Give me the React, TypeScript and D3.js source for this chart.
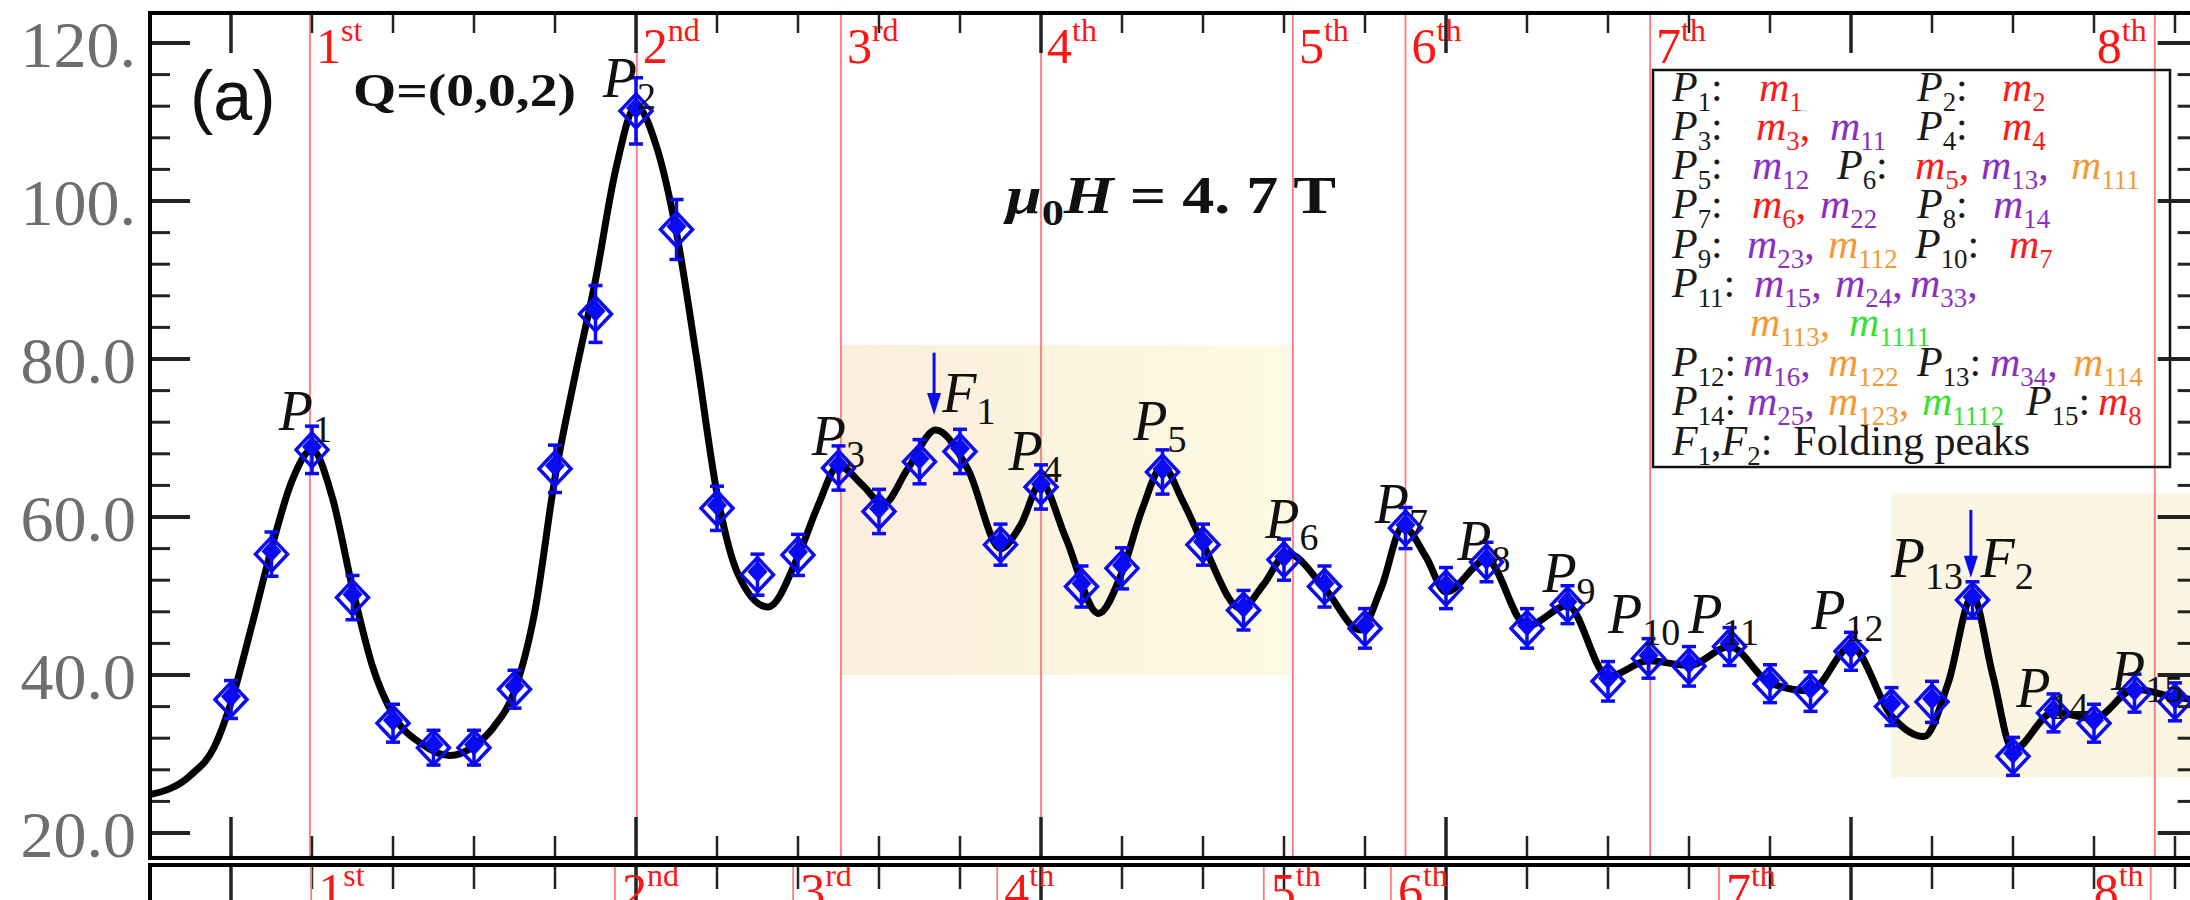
import React from 'react';
import * as d3 from 'd3';

// ---------- data ----------
const energy = [0,0.5,1,1.5,2,2.5,3,3.5,4,4.5,5,5.5,6,6.5,7,7.5,8,8.5,9,9.5,10,10.5,11,11.5,12,12.5,13,13.5,14,14.5,15,15.5,16,16.5,17,17.5,18,18.5,19,19.5,20,20.5,21,21.5,22,22.5,23,23.5,24];
const intensity = [36.9,55.3,68.5,49.8,33.9,30.8,30.8,38.2,66.1,85.7,111.4,96.4,61.1,52.7,55.2,66.2,60.7,67.0,68.3,56.5,63.8,51.2,53.5,65.7,56.5,48.2,54.6,51.2,45.9,58.6,51.0,54.3,45.9,48.9,39.2,42.1,41.1,43.6,38.9,37.9,43.0,36.0,36.6,49.5,29.7,35.2,33.9,37.7,36.6];
const errors = [2.4,2.8,3.0,2.8,2.4,2.2,2.2,2.4,3.0,3.6,4.2,3.8,2.8,2.6,2.6,2.8,2.8,2.8,2.8,2.6,2.8,2.6,2.6,2.8,2.6,2.5,2.6,2.6,2.5,2.6,2.6,2.5,2.5,2.4,2.5,2.5,2.5,2.4,2.4,2.5,2.4,2.4,2.6,2.3,2.4,2.4,2.4,2.4,2.4];

const fitE = [-1.02,-0.5,-0.2,0,0.25,0.5,0.75,1.0,1.25,1.5,1.75,2.0,2.35,2.7,3.0,3.25,3.5,3.75,4.0,4.25,4.5,4.75,5.0,5.25,5.5,5.75,6.0,6.25,6.63,7.0,7.25,7.5,7.8,8.05,8.35,8.7,9.1,9.5,9.75,10.0,10.3,10.71,11.0,11.25,11.5,11.75,12.0,12.47,12.75,13.04,13.5,13.94,14.2,14.47,14.75,15.0,15.5,16.0,16.5,17.0,17.5,18.0,18.5,19.0,19.5,20.0,20.5,20.9,21.2,21.5,21.75,22.0,22.5,23.0,23.5,24.0,24.3];
const fitI = [24.8,27.3,31.0,36.5,46.0,56.0,64.5,68.5,62.5,51.0,41.0,35.0,31.3,29.8,31.0,33.5,38.0,48.0,65.0,78.0,90.0,104.0,112.0,107.0,96.0,80.0,63.0,53.0,48.6,55.0,61.5,66.5,64.0,61.6,66.0,71.0,66.0,56.0,59.0,64.3,57.5,47.8,53.0,61.0,66.4,62.0,56.6,48.4,51.5,55.4,51.0,45.7,51.0,58.8,55.0,50.5,54.6,46.2,48.8,39.8,41.8,41.2,43.6,39.0,38.0,43.6,34.8,32.2,39.0,50.0,40.0,30.5,35.3,34.5,38.2,37.2,36.8];

const yMajor = [20, 40, 60, 80, 100, 120];
const yMajorLabels = ['20.0', '40.0', '60.0', '80.0', '100.', '120.'];

const orderLinesUpper = [0.975, 5.01, 7.53, 10.0, 13.11, 14.5, 17.52, 23.75];
const orderLinesLower = [0.99, 4.74, 6.94, 9.46, 12.75, 14.32, 18.37, 23.7];
const orderNums = ['1', '2', '3', '4', '5', '6', '7', '8'];
const orderSups = ['st', 'nd', 'rd', 'th', 'th', 'th', 'th', 'th'];

const peakNames = ['1','2','3','4','5','6','7','8','9','10','11','12','13','14','15'];
const peakLabelE = [0.59, 4.59, 7.17, 9.6, 11.14, 12.77, 14.12, 15.14, 16.19, 17.0, 17.99, 19.51, 20.49, 22.04, 23.21];
const peakLabelI = [71.0, 113.2, 67.8, 66.0, 69.7, 57.3, 59.2, 54.6, 50.5, 45.3, 45.3, 45.8, 52.4, 36.0, 38.1];

const foldNames = ['1', '2'];
const foldArrowE = [8.68, 21.48];
const foldArrowTop = [80.8, 60.9];
const foldArrowBot = [72.9, 52.3];
const foldLabelE = [8.78, 21.6];
const foldLabelI = [73.3, 52.4];

const shade1 = { e0: 7.53, e1: 13.08, i0: 40, i1: 81.8 };
const shade2 = { e0: 20.5, e1: 24.4, i0: 27, i1: 63 };

// legend content
const RED = '#ff1a1a', PUR = '#8a2fc0', ORA = '#f39a36', GRN = '#38e038', BLK = '#1a1a1a';
type Run = { t: string; s?: string; c: string; it?: boolean };
const P = (n: string): Run[] => [{ t: 'P', s: n, c: BLK, it: true }, { t: ':', c: BLK }];
const M = (n: string, c: string, comma = false): Run[] =>
  comma ? [{ t: 'm', s: n, c, it: true }, { t: ',', c }] : [{ t: 'm', s: n, c, it: true }];

const legendRows: { x: number; runs: Run[] }[][] = [
  [{ x: 1672, runs: P('1') }, { x: 1759, runs: M('1', RED) }, { x: 1917, runs: P('2') }, { x: 2002, runs: M('2', RED) }],
  [{ x: 1672, runs: P('3') }, { x: 1756, runs: M('3', RED, true) }, { x: 1830, runs: M('11', PUR) }, { x: 1917, runs: P('4') }, { x: 2002, runs: M('4', RED) }],
  [{ x: 1672, runs: P('5') }, { x: 1752, runs: M('12', PUR) }, { x: 1837, runs: P('6') }, { x: 1915, runs: M('5', RED, true) }, { x: 1981, runs: M('13', PUR, true) }, { x: 2071, runs: M('111', ORA) }],
  [{ x: 1672, runs: P('7') }, { x: 1752, runs: M('6', RED, true) }, { x: 1820, runs: M('22', PUR) }, { x: 1917, runs: P('8') }, { x: 1993, runs: M('14', PUR) }],
  [{ x: 1672, runs: P('9') }, { x: 1747, runs: M('23', PUR, true) }, { x: 1828, runs: M('112', ORA) }, { x: 1915, runs: P('10') }, { x: 2009, runs: M('7', RED) }],
  [{ x: 1672, runs: P('11') }, { x: 1754, runs: M('15', PUR, true) }, { x: 1835, runs: M('24', PUR, true) }, { x: 1910, runs: M('33', PUR, true) }],
  [{ x: 1750, runs: M('113', ORA, true) }, { x: 1849, runs: M('1111', GRN) }],
  [{ x: 1672, runs: P('12') }, { x: 1743, runs: M('16', PUR, true) }, { x: 1828, runs: M('122', ORA) }, { x: 1917, runs: P('13') }, { x: 1990, runs: M('34', PUR, true) }, { x: 2073, runs: M('114', ORA) }],
  [{ x: 1672, runs: P('14') }, { x: 1747, runs: M('25', PUR, true) }, { x: 1828, runs: M('123', ORA, true) }, { x: 1922, runs: M('1112', GRN) }, { x: 2026, runs: P('15') }, { x: 2098, runs: M('8', RED) }],
  [{ x: 1672, runs: [{ t: 'F', s: '1', c: BLK, it: true }, { t: ',', c: BLK }, { t: 'F', s: '2', c: BLK, it: true }, { t: ':  Folding peaks', c: BLK }] }],
];
const legendBaselines = [101, 140, 179, 218, 258, 297, 336, 376, 415, 455];

// ---------- layout ----------
const W = 2190, H = 900;
const X = d3.scaleLinear().domain([0, 20]).range([231, 1851]);
const Y = d3.scaleLinear().domain([20, 120]).range([833, 43]);
const L = X(-1.0), R = X(24.28), T = Y(123.8), B = Y(16.84);
const LOWER_TOP = 865;
const SERIF = '"Liberation Serif", "Times New Roman", serif';
const BLUE = '#0a0af5';
const LEG_FS = 42;

function renderRuns(runs: Run[], size: number, keyp: string) {
  const out: any[] = [];
  let pending = 0;
  runs.forEach((r, i) => {
    out.push(
      <tspan key={keyp + i + 'a'} dy={pending ? pending : undefined} fill={r.c} fontStyle={r.it ? 'italic' : 'normal'}>{r.t}</tspan>
    );
    pending = 0;
    if (r.s) {
      const d = size * 0.24;
      out.push(
        <tspan key={keyp + i + 'b'} dy={d} fontSize={size * 0.64} fill={r.c} fontStyle="normal">{r.s}</tspan>
      );
      pending = -d;
    }
  });
  return out;
}

export default function App() {
  const line = d3.line<number>()
    .x((_, i) => X(fitE[i]))
    .y((_, i) => Y(fitI[i]))
    .curve(d3.curveMonotoneX);
  const fitPath = line(fitI) || '';

  const xTicks = d3.range(0, 25, 1);
  const yTicks = d3.range(20, 124, 4);

  const diamond = (w: number, h: number) => `M0,${-h}L${w},0L0,${h}L${-w},0Z`;

  return (
    <svg width={W} height={H} style={{ position: 'absolute', left: 0, top: 0, background: '#fff' }}>
      <defs>
        <linearGradient id="sh1" x1="0" x2="1" y1="0" y2="0">
          <stop offset="0" stopColor="#fbeedc" />
          <stop offset="1" stopColor="#fdfae2" />
        </linearGradient>
        <clipPath id="plotClip">
          <rect x={L} y={T} width={R - L} height={B - T} />
        </clipPath>
      </defs>

      {/* shaded regions */}
      <rect x={X(shade1.e0)} y={Y(shade1.i1)} width={X(shade1.e1) - X(shade1.e0)} height={Y(shade1.i0) - Y(shade1.i1)} fill="url(#sh1)" />
      <rect x={X(shade2.e0)} y={Y(shade2.i1)} width={X(shade2.e1) - X(shade2.e0)} height={Y(shade2.i0) - Y(shade2.i1)} fill="#fbf5e1" />

      {/* order lines upper */}
      {orderLinesUpper.map((e, i) => (
        <line key={'ol' + i} x1={X(e)} x2={X(e)} y1={T} y2={B} stroke="#ff7b7b" strokeWidth={1.8} />
      ))}
      {orderLinesUpper.map((e, i) => {
        const last = i === orderLinesUpper.length - 1;
        return (
          <text key={'olt' + i} x={last ? X(e) - 58 : X(e) + 6} y={63} fill="#ff1414" fontSize={50} fontFamily={SERIF}>
            {orderNums[i]}<tspan fontSize={32} dy={-22}>{orderSups[i]}</tspan>
          </text>
        );
      })}

      {/* fit curve */}
      <path d={fitPath} fill="none" stroke="#000" strokeWidth={7} clipPath="url(#plotClip)" strokeLinejoin="round" />

      {/* data points */}
      {energy.map((e, i) => {
        const cx = X(e), cy = Y(intensity[i]);
        const y1 = Y(intensity[i] + errors[i]), y2 = Y(intensity[i] - errors[i]);
        return (
          <g key={'pt' + i} clipPath="url(#plotClip)">
            <line x1={cx} x2={cx} y1={y1} y2={y2} stroke={BLUE} strokeWidth={3.5} />
            <line x1={cx - 7} x2={cx + 7} y1={y1} y2={y1} stroke={BLUE} strokeWidth={3.5} />
            <line x1={cx - 7} x2={cx + 7} y1={y2} y2={y2} stroke={BLUE} strokeWidth={3.5} />
            <path d={diamond(10, 11)} transform={`translate(${cx},${cy - 3})`} fill={BLUE} />
            <path d={diamond(16, 17)} transform={`translate(${cx},${cy})`} fill="none" stroke={BLUE} strokeWidth={3.5} />
          </g>
        );
      })}

      {/* peak labels */}
      {peakNames.map((n, i) => (
        <text key={'pl' + i} x={X(peakLabelE[i])} y={Y(peakLabelI[i])} fontSize={56} fontFamily={SERIF} fill="#111" style={{ whiteSpace: 'pre' }}>
          <tspan fontStyle="italic">P</tspan>
          <tspan fontSize={38} dy={12}>{n}</tspan>
        </text>
      ))}

      {/* folding arrows */}
      {foldNames.map((n, i) => {
        const ax = X(foldArrowE[i]);
        const yt = Y(foldArrowTop[i]), yb = Y(foldArrowBot[i]);
        return (
          <g key={'fa' + i}>
            <line x1={ax} x2={ax} y1={yt} y2={yb - 18} stroke={BLUE} strokeWidth={3} />
            <path d={`M${ax - 7},${yb - 22}L${ax + 7},${yb - 22}L${ax},${yb}Z`} fill={BLUE} />
            <text x={X(foldLabelE[i])} y={Y(foldLabelI[i])} fontSize={56} fontFamily={SERIF} fill="#111">
              <tspan fontStyle="italic">F</tspan>
              <tspan fontSize={38} dy={12}>{n}</tspan>
            </text>
          </g>
        );
      })}

      {/* annotations */}
      <text x={190} y={120} fontSize={70} fontFamily='"Liberation Sans", Arial, sans-serif' fill="#111">(a)</text>
      <text x={353} y={106} fontSize={46} fontWeight="bold" fontFamily={SERIF} fill="#111" textLength={223} lengthAdjust="spacingAndGlyphs">Q=(0,0,2)</text>
      <text x={1006} y={213} fontSize={52} fontWeight="bold" fontFamily={SERIF} fill="#111" textLength={330} lengthAdjust="spacingAndGlyphs" style={{ whiteSpace: 'pre' }}>
        <tspan fontStyle="italic">μ</tspan>
        <tspan fontSize={36} dy={12}>0</tspan>
        <tspan dy={-12} fontStyle="italic">H</tspan>
        <tspan> = 4. 7 T</tspan>
      </text>

      {/* legend */}
      <rect x={1653} y={70} width={517} height={397} fill="none" stroke="#111" strokeWidth={2.5} />
      {legendRows.map((row, ri) => row.map((seg, si) => (
        <text key={'lg' + ri + '_' + si} x={seg.x} y={legendBaselines[ri]} fontSize={LEG_FS} fontFamily={SERIF} style={{ whiteSpace: 'pre' }}>
          {renderRuns(seg.runs, LEG_FS, 'r' + ri + 's' + si)}
        </text>
      )))}

      {/* y axis labels */}
      {yMajor.map((v, i) => (
        <text key={'yl' + i} x={136} y={Y(v) + 24} textAnchor="end" fontSize={66} fontFamily={SERIF} fill="#6e6e6e">{yMajorLabels[i]}</text>
      ))}

      {/* ticks */}
      {xTicks.map((t) => {
        const major = t % 5 === 0;
        return (
          <g key={'xt' + t}>
            <line x1={X(t)} x2={X(t)} y1={T} y2={T + (major ? 40 : 20)} stroke="#222" strokeWidth={major ? 3.5 : 2.5} />
            <line x1={X(t)} x2={X(t)} y1={B} y2={B - (major ? 41 : 22)} stroke="#222" strokeWidth={major ? 3.5 : 2.5} />
            <line x1={X(t)} x2={X(t)} y1={LOWER_TOP} y2={major ? H : LOWER_TOP + 24} stroke="#222" strokeWidth={major ? 3.5 : 2.5} />
          </g>
        );
      })}
      {yTicks.map((t) => {
        const major = (t - 20) % 20 === 0;
        return (
          <g key={'yt' + t}>
            <line x1={L} x2={L + (major ? 40 : 20)} y1={Y(t)} y2={Y(t)} stroke="#222" strokeWidth={major ? 4 : 3} />
            <line x1={R} x2={R - (major ? 40 : 20)} y1={Y(t)} y2={Y(t)} stroke="#222" strokeWidth={major ? 4 : 3} />
          </g>
        );
      })}

      {/* frame */}
      <rect x={L} y={T} width={R - L} height={B - T} fill="none" stroke="#000" strokeWidth={4} />

      {/* lower panel (top part visible) */}
      {orderLinesLower.map((e, i) => (
        <line key={'ll' + i} x1={X(e)} x2={X(e)} y1={LOWER_TOP} y2={H} stroke="#ff7b7b" strokeWidth={1.8} />
      ))}
      {orderLinesLower.map((e, i) => {
        const last = i === orderLinesLower.length - 1;
        return (
          <text key={'llt' + i} x={last ? X(e) - 57 : X(e) + 7} y={908} fill="#ff1414" fontSize={50} fontFamily={SERIF}>
            {orderNums[i]}<tspan fontSize={32} dy={-22}>{orderSups[i]}</tspan>
          </text>
        );
      })}
      <line x1={L - 2} x2={W} y1={LOWER_TOP} y2={LOWER_TOP} stroke="#000" strokeWidth={4} />
      <line x1={L} x2={L} y1={LOWER_TOP} y2={H} stroke="#000" strokeWidth={4} />
    </svg>
  );
}
